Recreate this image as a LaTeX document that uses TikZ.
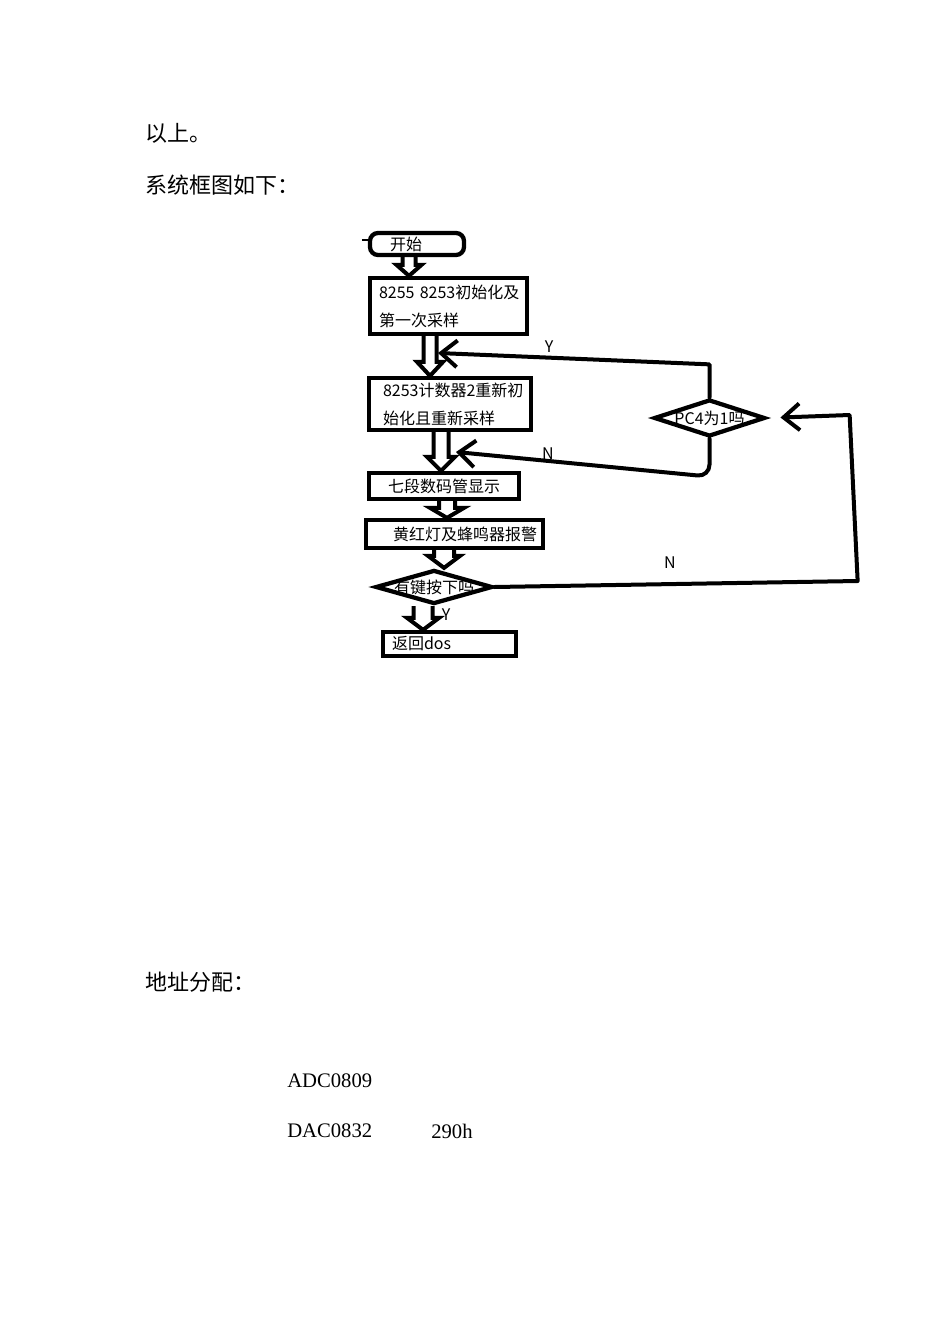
\documentclass[tikz,border=0pt]{standalone}
\usepackage{fontspec}
\setmainfont{Liberation Serif}
\newfontfamily\cjk{Noto Sans CJK SC}
\usetikzlibrary{shapes.geometric,arrows.meta,calc}
\newcommand\harrow[6]{% x, from, to, shaft half, head half, head length
  \coordinate (hx) at (#1,0);
  \draw[harr] ($(hx |- #2.south)+(-#4,0)$) -- ($(hx |- #3.north)+(-#4,-#6)$) -- ($(hx |- #3.north)+(-#5,-#6)$) -- (hx |- #3.north) -- ($(hx |- #3.north)+(#5,-#6)$) -- ($(hx |- #3.north)+(#4,-#6)$) -- ($(hx |- #2.south)+(#4,0)$);
}
\begin{document}
\begin{tikzpicture}[x=0.75pt,y=-0.75pt,
  box/.style={draw,line width=3.2pt,rectangle,inner ysep=0pt,font=\cjk\fontsize{12pt}{21pt}\selectfont,align=left},
  diam/.style={draw,line width=3.2pt,diamond,inner sep=0pt},
  dtext/.style={font=\cjk\fontsize{12pt}{14pt}\selectfont,inner sep=0pt},
  harr/.style={draw,line width=3pt,line join=miter},
  conn/.style={line width=3pt,line cap=round,line join=round},
  tip/.style={-{Straight Barb[length=12pt,width=20pt]}},
  lbl/.style={font=\cjk\fontsize{12pt}{14pt}\selectfont, inner sep=0pt},
  head/.style={font=\cjk\fontsize{16.5pt}{20pt}\selectfont, anchor=west, inner sep=0pt},
  addr/.style={font=\fontsize{15.5pt}{18pt}\selectfont, anchor=west, inner sep=0pt}]
\fill[white] (0,0) rectangle (950,1344);
\useasboundingbox (0,0) rectangle (950,1344);

% headings
\node[head] (h1) at (145,133) {以上。};
\node[head] (h2) at (145,185) {系统框图如下：};
\node[head] (h3) at (145,982) {地址分配：};
\node[addr] (a1) at (287,1081) {ADC0809};
\node[addr] (a2) at (287,1131) {DAC0832};
\node[addr] (a3) at (431,1131) {290h};

% flowchart nodes
\node[box,rounded corners=6pt,inner xsep=15pt,text width=40.5pt,minimum width=70.5pt,minimum height=16.5pt] (start) at (417,244) {开始};
\node[box,inner xsep=6.75pt,text width=104.25pt,minimum width=117.75pt,minimum height=42pt] (b1) at (448.5,306) {8255~8253初始化及\\第一次采样};
\node[box,inner xsep=10.5pt,text width=100.5pt,minimum width=121.5pt,minimum height=39pt] (b2) at (450,404) {8253计数器2重新初\\始化且重新采样};
\node[box,align=center,minimum width=112.5pt,minimum height=19.5pt] (b3) at (444,486) {七段数码管显示};
\node[box,inner xsep=20.25pt,text width=92.25pt,minimum width=132.75pt,minimum height=21pt] (b4) at (454.5,534) {黄红灯及蜂鸣器报警};
\node[diam,minimum width=87.75pt,minimum height=25.5pt,label={[dtext]center:有键按下吗}] (d2) at (434,587) {};
\node[box,inner xsep=6.75pt,text width=86.25pt,minimum width=99.75pt,minimum height=18pt] (b5) at (449.5,644) {返回dos};
\node[diam,minimum width=83.25pt,minimum height=27.75pt,label={[dtext]center:PC4为1吗}] (d1) at (709.5,418) {};

\draw[line width=2.2pt] ($(start.west)+(-6,-4)$) -- ++(8,0);

% hollow arrows
\harrow{409}{start}{b1}{6.5}{12.5}{11}
\harrow{430}{b1}{b2}{6.5}{13}{14}
\harrow{441}{b2}{b3}{7.5}{14}{14}
\harrow{447}{b3}{b4}{8}{17}{10}
\harrow{444}{b4}{d2}{10}{16}{12}
\harrow{423}{d2}{b5}{9.5}{16}{12}

% connectors
\coordinate (yend) at (438,353);
\coordinate (nend) at (456,452);
\draw[conn,tip] (d1.north) -- ++(0,-33) -- (yend);
\draw[conn,tip,rounded corners=9pt] (d1.south) -- ++(0,38) -- (nend);
\draw[conn,tip,shorten >=10pt] (d2.east) -- ++(363,-6) -- ++(-8,-166) -- (d1.east);

% labels
\node[lbl] (ly1) at (549,347) {Y};
\node[lbl] (ln1) at (548,454) {N};
\node[lbl] (ln2) at (670,563) {N};
\node[lbl] (ly2) at (446,615) {Y};
\end{tikzpicture}
\end{document}
